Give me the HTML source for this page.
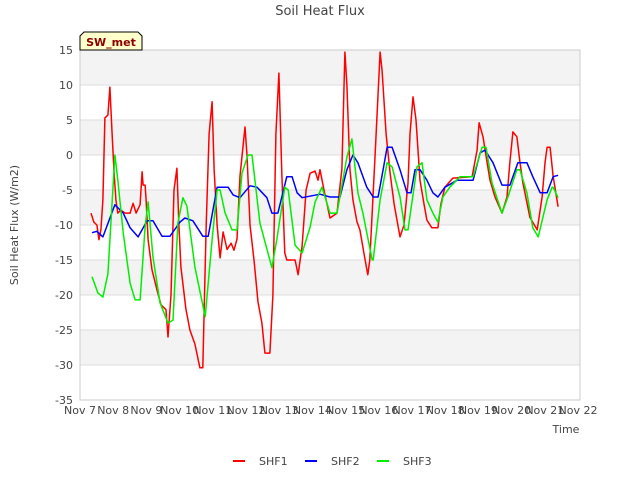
<!DOCTYPE html>
<html><head><meta charset="utf-8"><style>
body{margin:0;background:#fff;font-family:"Liberation Sans",sans-serif}
svg text{font-family:"DejaVu Sans","Liberation Sans",sans-serif;fill:#444}
</style></head><body>
<svg id="c" width="640" height="480">
<text x="320" y="15" text-anchor="middle" font-size="13">Soil Heat Flux</text>
<g id="bands"></g><g id="grid"></g>
<rect x="80" y="50" width="500" height="350" fill="none" stroke="#ccc"/>
<g id="yt"></g><g id="xt"></g><g id="series"></g>
<text transform="translate(18,225) rotate(-90)" text-anchor="middle" font-size="11">Soil Heat Flux (W/m2)</text>
<text x="566" y="433" text-anchor="middle" font-size="11">Time</text>
<g><path d="M80,50 L80,36 L84,32 L138,32 L142,36 L142,50 Z" fill="#ffffcc" stroke="#000"/>
<text x="111" y="46" text-anchor="middle" font-size="11" font-weight="bold" style="fill:#8b0000">SW_met</text></g>
<g id="legend"></g>
</svg>
<script>
const yTicks=[15,10,5,0,-5,-10,-15,-20,-25,-30,-35];
const xTickLabels=["Nov 7","Nov 8","Nov 9","Nov 10","Nov 11","Nov 12","Nov 13","Nov 14","Nov 15","Nov 16","Nov 17","Nov 18","Nov 19","Nov 20","Nov 21","Nov 22"];
const seriesNames=["SHF1","SHF2","SHF3"];
const shf1T=[.33,.42,.51,.57,.63,.69,.75,.84,.90,.96,1.02,1.08,1.14,1.23,1.36,1.51,1.60,1.69,1.81,1.87,1.90,1.96,1.99,2.05,2.17,2.32,2.44,2.59,2.65,2.74,2.83,2.92,2.98,3.04,3.19,3.31,3.46,3.61,3.70,3.80,3.89,3.98,4.04,4.13,4.22,4.31,4.43,4.55,4.64,4.73,4.82,4.97,5.03,5.12,5.24,5.36,5.48,5.57,5.72,5.81,5.90,5.99,6.08,6.17,6.23,6.48,6.57,6.69,6.81,6.93,7.08,7.17,7.23,7.35,7.53,7.74,7.89,7.98,8.04,8.13,8.22,8.34,8.43,8.55,8.67,8.73,8.89,9.04,9.10,9.22,9.34,9.46,9.64,9.76,9.88,9.94,10.03,10.12,10.24,10.36,10.45,10.60,10.78,10.87,10.99,11.23,11.81,11.96,12.02,12.14,12.26,12.35,12.50,12.71,12.86,12.95,13.04,13.16,13.25,13.34,13.55,13.77,13.92,14.01,14.07,14.16,14.25,14.40];
const shf1V=[-8.3,-9.6,-10,-12.1,-10.7,-6.4,5.3,5.7,9.7,3.6,-2.1,-6.4,-8.3,-7.9,-8.3,-8.3,-6.9,-8.3,-7.1,-2.4,-4.3,-4.3,-6.4,-12.1,-16.4,-19.3,-21.4,-22.1,-26,-20,-5,-1.9,-10,-16,-22,-25,-27,-30.4,-30.4,-10,3,7.6,-2,-10,-14.7,-11,-13.5,-12.6,-13.6,-12,-3,4,0,-10,-15,-21,-24,-28.3,-28.3,-20,3,11.7,-3,-14,-15,-15,-17.1,-13,-5,-2.6,-2.3,-3.6,-2.1,-5,-9,-8.3,-2,14.7,10,-2,-6.4,-9.5,-10.7,-14,-17.1,-15,0,14.7,12,3,-2.6,-7,-11.7,-10,-4,3,8.3,5,-3.6,-7,-9.3,-10.4,-10.4,-7,-4.6,-3.3,-3.1,0.7,4.6,2.6,-1,-3.6,-6,-8.3,-6,-1,3.3,2.6,-1,-4,-8.9,-10.7,-6,-1,1.1,1.1,-3,-7.4];
const shf2T=[.36,.51,.69,1.05,1.30,1.51,1.75,2.02,2.20,2.47,2.71,3.01,3.16,3.40,3.70,3.86,4.13,4.46,4.61,4.82,5.12,5.33,5.63,5.78,5.96,6.23,6.39,6.54,6.69,7.23,7.53,7.83,8.04,8.22,8.37,8.64,8.83,8.98,9.13,9.25,9.40,9.64,9.85,9.97,10.09,10.24,10.45,10.63,10.78,10.99,11.36,11.84,12.05,12.20,12.44,12.71,12.95,13.19,13.46,13.64,13.86,14.07,14.25,14.40];
const shf2V=[-11.1,-10.9,-11.7,-7.1,-8.3,-10.4,-11.7,-9.4,-9.4,-11.6,-11.6,-9.6,-9,-9.4,-11.6,-11.6,-4.6,-4.6,-5.7,-6.1,-4.4,-4.6,-6.1,-8.3,-8.3,-3.1,-3.1,-5.4,-6.1,-5.6,-6,-6,-2.1,0,-1.1,-4.6,-6,-6,-2.1,1.1,1.1,-2.1,-5.4,-5.4,-2.1,-2.1,-3.6,-5.4,-6,-4.6,-3.6,-3.6,0.3,0.7,-1.1,-4.3,-4.3,-1.1,-1.1,-3.1,-5.4,-5.4,-3.1,-2.9];
const shf3T=[.36,.54,.69,.84,1.05,1.14,1.30,1.51,1.66,1.81,1.96,2.05,2.20,2.41,2.65,2.80,2.95,3.10,3.22,3.46,3.77,3.98,4.13,4.22,4.37,4.58,4.73,4.88,5.06,5.18,5.42,5.78,5.93,6.17,6.27,6.48,6.69,6.93,7.08,7.29,7.53,7.74,8.04,8.19,8.37,8.52,8.80,8.83,9.04,9.25,9.40,9.64,9.79,9.88,10.15,10.30,10.45,10.63,10.78,10.93,11.14,11.45,11.84,12.11,12.23,12.41,12.71,12.89,13.16,13.25,13.46,13.64,13.80,14.07,14.22,14.25,14.40];
const shf3V=[-17.4,-19.7,-20.3,-17,0,-3.6,-11.1,-18.3,-20.7,-20.7,-10.3,-6.7,-14.6,-21.1,-24,-23.6,-9.7,-6.1,-7.3,-16,-23.1,-12.1,-5,-5,-8.3,-10.7,-10.7,-2.6,0,0,-9.7,-16.1,-12,-4.6,-5,-12.9,-14,-10.3,-6.7,-4.6,-8.3,-8.3,-0.3,2.3,-5.4,-8.3,-15,-15,-6.4,-1.1,-1.7,-6,-10.7,-10.7,-1.7,-1.1,-6.4,-8.3,-9.6,-6,-4.6,-3.1,-3.1,1.1,1.1,-4,-8.3,-6,-2.1,-2.1,-5.4,-10.4,-11.7,-6.4,-4.6,-4.6,-6.1];
const colors=["#ff0000","#0000ff","#00ee00"];
const X0=80,X1=578,Y0=50,Y1=400,yMax=15,yMin=-35,tMax=15;
const sx=t=>X0+t*(X1-X0)/tMax;
const sy=v=>Y0+(yMax-v)*(Y1-Y0)/(yMax-yMin);
const NS="http://www.w3.org/2000/svg";
function mk(tag,attrs,parent){const e=document.createElementNS(NS,tag);for(const k in attrs)e.setAttribute(k,attrs[k]);document.getElementById(parent).appendChild(e);return e;}
[[15,10],[5,0],[-5,-10],[-15,-20],[-25,-30]].forEach(b=>{const r=mk('rect',{x:X0,y:sy(b[0]),width:500,height:sy(b[1])-sy(b[0]),fill:'#f3f3f3'},'bands');

});
yTicks.forEach(v=>{const l=mk('line',{x1:X0,x2:580,y1:sy(v),y2:sy(v),stroke:'#ddd'},'grid');


const t=mk('text',{x:73,y:sy(v)+4,'text-anchor':'end','font-size':'11'},'yt');t.textContent=v;

});
xTickLabels.forEach((s,i)=>{const t=mk('text',{x:sx(i),y:414,'text-anchor':'middle','font-size':'11'},'xt');t.textContent=s;

});
const allT=[shf1T,shf2T,shf3T],allV=[shf1V,shf2V,shf3V];
allT.forEach((T,k)=>{const p=T.map((t,i)=>sx(t).toFixed(1)+','+sy(allV[k][i]).toFixed(1)).join(' ');
const l=mk('polyline',{points:p,fill:'none',stroke:colors[k],'stroke-width':'1.5','stroke-linejoin':'round'},'series');

});
seriesNames.forEach((n,k)=>{const x0=233+k*72;const g=mk('g',{},'legend');


const l=document.createElementNS(NS,'line');[['x1',x0],['x2',x0+12],['y1',461],['y2',461],['stroke',colors[k]],['stroke-width','2']].forEach(a=>l.setAttribute(a[0],a[1]));g.appendChild(l);
const t=document.createElementNS(NS,'text');t.setAttribute('x',x0+26);t.setAttribute('y',465);t.setAttribute('font-size','11');t.textContent=n;g.appendChild(t);});
</script>
</body></html>
